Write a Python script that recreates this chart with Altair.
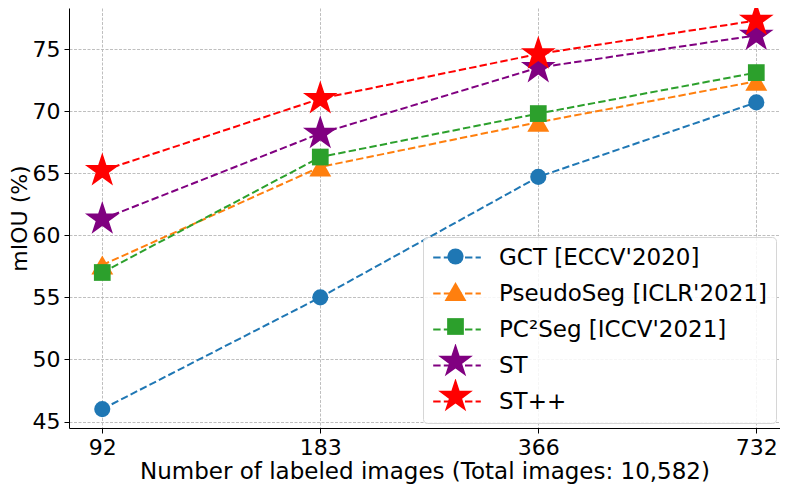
import math
import altair as alt
import pandas as pd

# ---- data ----
labeled = ["92", "183", "366", "732"]
series_names = ["GCT [ECCV'2020]", "PseudoSeg [ICLR'2021]", "PC²Seg [ICCV'2021]", "ST", "ST++"]
gct = [46.0, 55.0, 64.7, 70.7]
pseudoseg = [57.6, 65.5, 69.1, 72.4]
pc2seg = [57.0, 66.3, 69.8, 73.1]
st = [61.3, 68.2, 73.5, 76.1]
stpp = [65.2, 71.0, 74.6, 77.3]
y_ticks = [45, 50, 55, 60, 65, 70, 75]

colors = ["#1f77b4", "#ff7f0e", "#2ca02c", "#800080", "#ff0000"]


def star_path(inner=0.381966):
    pts = []
    for k in range(10):
        ang = math.pi / 2 + k * math.pi / 5
        r = 1.0 if k % 2 == 0 else inner
        pts.append((r * math.cos(ang), -r * math.sin(ang)))
    return "M" + "L".join(f"{x:.4f},{y:.4f}" for x, y in pts) + "Z"


STAR = star_path()
shapes = ["circle", "triangle-up", "square", STAR, STAR]
sizes = [260, 480, 280, 1330, 1330]

all_values = [gct, pseudoseg, pc2seg, st, stpp]
rows = []
for name, vals in zip(series_names, all_values):
    for n, v in zip(labeled, vals):
        rows.append({"series": name, "method": name, "n": n, "miou": v})
df = pd.DataFrame(rows)

FONT = "DejaVu Sans"
FS = 22
LFS = 23

x_enc = alt.X(
    "n:N",
    sort=labeled,
    scale=alt.Scale(type="point", padding=0.1307, align=0.584),
    axis=alt.Axis(
        title="Number of labeled images (Total images: 10,582)",
        titleFontSize=LFS,
        labelAngle=0,
        labelPadding=4,
        titlePadding=2,
    ),
)
y_enc = alt.Y(
    "miou:Q",
    scale=alt.Scale(domain=[44.477, 78.302], nice=False, zero=False),
    axis=alt.Axis(title="mIOU (%)", values=y_ticks, labelPadding=4, titlePadding=1),
)

line_legend = alt.Legend(
    title=None,
    orient="none",
    legendX=354,
    legendY=229,
    fillColor="rgba(255,255,255,0.85)",
    strokeColor="#d6d6d6",
    cornerRadius=4,
    padding=9,
    clipHeight=23,
    rowPadding=12,
    symbolType="stroke",
    symbolSize=2266,
    symbolStrokeWidth=2,
    symbolDash=[7.4, 3.2],
    labelFontSize=LFS,
    labelFont=FONT,
    labelColor="black",
    labelOffset=17,
    labelLimit=400,
)
pt_legend = alt.Legend(
    title=None,
    orient="none",
    legendX=368,
    legendY=231,
    padding=0,
    clipHeight=35,
    rowPadding=0,
    symbolStrokeWidth=0,
    symbolOpacity=1,
    labelExpr="''",
    labelFontSize=LFS,
    labelFont=FONT,
    labelOffset=17,
    labelLimit=400,
)

lines = alt.Chart(df).mark_line(strokeDash=[7.4, 3.2], strokeWidth=2).encode(
    x=x_enc,
    y=y_enc,
    stroke=alt.Stroke(
        "method:N",
        sort=series_names,
        scale=alt.Scale(range=colors),
        legend=line_legend,
    ),
)

points = alt.Chart(df).mark_point(filled=True, opacity=1, strokeWidth=0).encode(
    x=x_enc,
    y=y_enc,
    fill=alt.Fill("series:N", sort=series_names,
                  scale=alt.Scale(domain=series_names, range=colors), legend=pt_legend),
    shape=alt.Shape("series:N", sort=series_names,
                    scale=alt.Scale(domain=series_names, range=shapes), legend=pt_legend),
    size=alt.Size("series:N", sort=series_names,
                  scale=alt.Scale(type="ordinal", domain=series_names, range=sizes),
                  legend=pt_legend),
)

chart = (
    alt.layer(lines, points)
    .properties(
        width=711,
        height=420,
        autosize=alt.AutoSizeParams(type="none"),
        padding={"left": 61, "top": 0, "right": 0, "bottom": 56},
        background="white",
    )
    .configure_view(strokeWidth=0)
    .configure_axis(
        labelFont=FONT,
        titleFont=FONT,
        labelFontSize=FS,
        titleFontSize=FS,
        labelColor="black",
        titleColor="black",
        titleFontWeight="normal",
        domainColor="black",
        domainWidth=1,
        tickColor="black",
        tickWidth=1,
        tickSize=5,
        grid=True,
        gridColor="#b8b8b8",
        gridDash=[3, 1.5],
        gridWidth=0.9,
    )
)

chart.save("out.html", embed_options={"renderer": "svg", "actions": False})
